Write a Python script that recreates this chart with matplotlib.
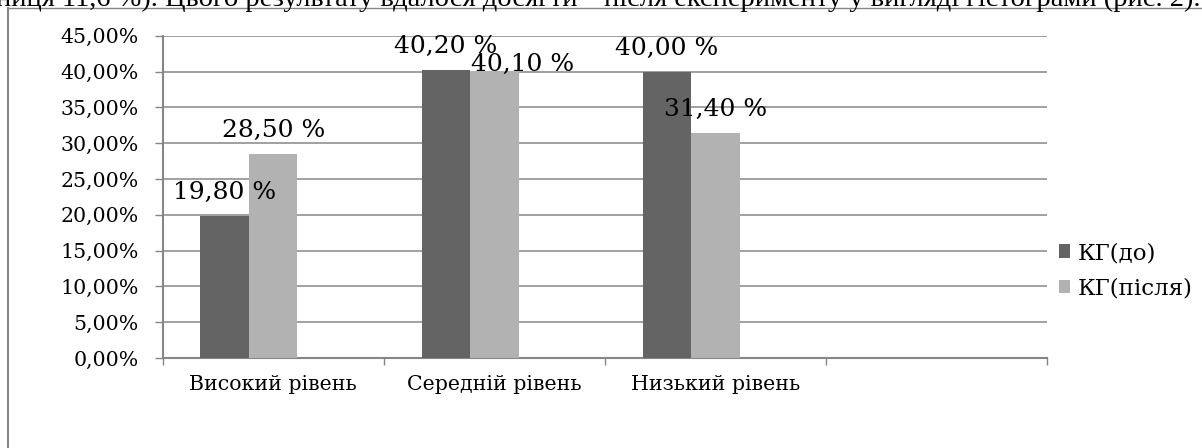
"""
Гістограма: рівні КГ до і після експерименту
"""

import numpy as np
import matplotlib
matplotlib.use("Agg")
import matplotlib.pyplot as plt
from matplotlib.lines import Line2D
from matplotlib.ticker import FixedLocator, FuncFormatter

# ==========================================
# Data
# ==========================================

categories = ["Високий рівень", "Середній рівень", "Низький рівень", ""]
kg_before = [19.8, 40.2, 40.0, np.nan]
kg_after = [28.5, 40.1, 31.4, np.nan]
series_names = ["КГ(до)", "КГ(після)"]

y_ticks = np.arange(0, 46, 5)

# ==========================================
# Style
# ==========================================

FONT = "DejaVu Serif"
GRID = "#868686"
DARK = "#646464"
LIGHT = "#b2b2b2"

plt.rcParams["font.family"] = FONT

fig = plt.figure(figsize=(12.02, 4.48), dpi=100)
fig.patch.set_facecolor("white")

ax = fig.add_axes([162.7 / 1202, 90 / 448, (1047 - 162.7) / 1202, (358 - 35.7) / 448])

x = np.arange(len(categories))
w = 48.5 / 221

# Excel leaves room for a third (empty) series, so the pair sits left of centre
ax.bar(x - w, kg_before, width=w, color=DARK, label=series_names[0], zorder=3)
ax.bar(x, kg_after, width=w, color=LIGHT, label=series_names[1], zorder=3)


def pct(v):
    return f"{v:.2f} %".replace(".", ",")


# label offsets in points; one label was dragged by hand in the original
default_off = (0, 12.2)
moved = {("after", 1): (20, 0)}

for key, xs, vals in [("before", x - w, kg_before), ("after", x, kg_after)]:
    for i, (xi, v) in enumerate(zip(xs, vals)):
        if np.isnan(v):
            continue
        ax.annotate(pct(v), (xi, v),
                    xytext=moved.get((key, i), default_off),
                    textcoords="offset points",
                    ha="center", va="baseline", fontsize=18, zorder=4)

ax.set_xlim(-0.5, len(categories) - 0.5)
ax.set_ylim(0, 45)

# y axis
ax.yaxis.set_major_locator(FixedLocator(y_ticks))
ax.yaxis.set_major_formatter(FuncFormatter(lambda v, p: f"{v:.2f}%".replace(".", ",")))
ax.tick_params(axis="y", length=5.5, width=1, color=GRID, pad=12,
               labelsize=14.8)
ax.grid(axis="y", color=GRID, linewidth=1.1, zorder=0)

# x axis: labels at centres, tick marks on category boundaries
ax.set_xticks(x)
ax.set_xticklabels(categories)
ax.set_xticks(np.arange(len(categories) + 1) - 0.5, minor=True)
ax.tick_params(axis="x", which="major", length=0, pad=12, labelsize=14.8)
ax.tick_params(axis="x", which="minor", length=5, width=1, color=GRID)

for side in ["top", "right"]:
    ax.spines[side].set_visible(False)
for side in ["left", "bottom"]:
    ax.spines[side].set_color(GRID)
    ax.spines[side].set_linewidth(1.5)

ax.legend(loc="center left", bbox_to_anchor=(1059 / 1202, (448 - 271) / 448),
          bbox_transform=fig.transFigure, frameon=False, fontsize=16.5,
          handlelength=0.5, handleheight=0.5, handletextpad=0.3,
          labelspacing=0.6, borderpad=0, borderaxespad=0)

# ==========================================
# Chart frame and the cut text line above it
# ==========================================

fig.add_artist(Line2D([8 / 1202, 8 / 1202], [0, 1 - 8 / 448],
                      transform=fig.transFigure, color=GRID, linewidth=1.5))
fig.add_artist(Line2D([8 / 1202, 1], [1 - 8 / 448, 1 - 8 / 448],
                      transform=fig.transFigure, color=GRID, linewidth=1))

fig.text(-4 / 1202, 1 - 6 / 448, "ниця 11,6 %). Цього результату вдалося досягти",
         family="Liberation Serif", fontsize=20.5, va="baseline", ha="left")
fig.text(1200 / 1202, 1 - 6 / 448, "після експерименту у вигляді гістограми (рис. 2).",
         family="Liberation Serif", fontsize=20.5, va="baseline", ha="right")

fig.savefig("out.png", dpi=100, facecolor="white")
